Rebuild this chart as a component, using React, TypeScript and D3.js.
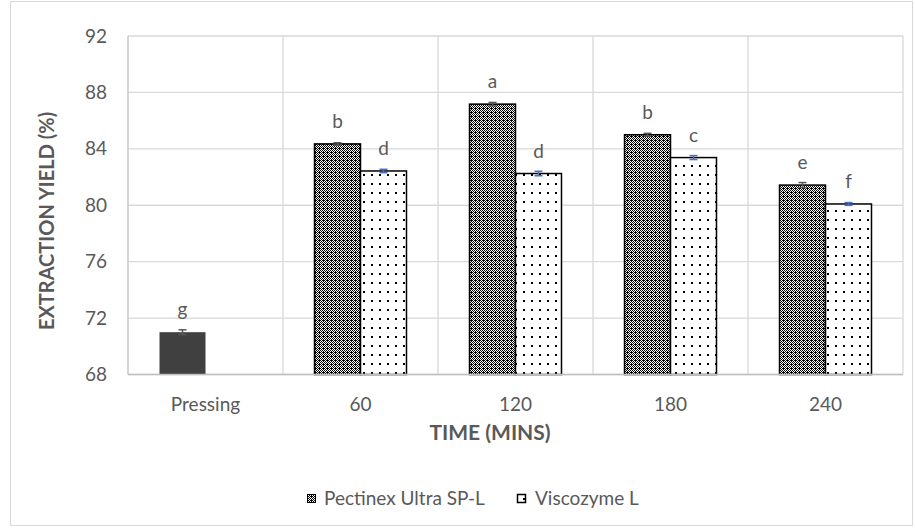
import React from "react";
import * as d3 from "d3";

const categories = ["Pressing", "60", "120", "180", "240"];
const seriesNames = ["Pectinex Ultra SP-L", "Viscozyme L"];
const pectinex = [71.0, 84.35, 87.17, 85.0, 81.43];
const pectinexErr = [0.17, 0.08, 0.12, 0.1, 0.18];
const viscozyme: (number | null)[] = [null, 82.43, 82.25, 83.38, 80.09];
const viscozymeErr: (number | null)[] = [null, 0.12, 0.16, 0.14, 0.1];
const pectinexLetters = ["g", "b", "a", "b", "e"];
const viscozymeLetters = ["", "d", "d", "c", "f"];
const yTicks = [68, 72, 76, 80, 84, 88, 92];

const W = 915;
const H = 528;
const PX0 = 128;
const PX1 = 903;
const PY0 = 36;
const PY1 = 374.5;
const FONT = "Lato, 'Open Sans', sans-serif";
const TXT = "#595959";

export default function App() {
  const x = d3.scaleBand<string>().domain(categories).range([PX0, PX1]).paddingInner(0).paddingOuter(0);
  const xs = d3.scaleBand<string>().domain(seriesNames).range([0, x.bandwidth()]).paddingInner(0).paddingOuter(0.685);
  const y = d3.scaleLinear().domain([68, 92]).range([PY1, PY0]);
  const bw = xs.bandwidth();

  const bars: any[] = [];
  categories.forEach((c, i) => {
    const vals = [pectinex[i], viscozyme[i]];
    const errs = [pectinexErr[i], viscozymeErr[i]];
    const letters = [pectinexLetters[i], viscozymeLetters[i]];
    vals.forEach((v, s) => {
      if (v == null) return;
      const bx = (x(c) as number) + (xs(seriesNames[s]) as number);
      const top = y(v);
      const isPress = c === "Pressing";
      const fill = isPress ? "#404040" : s === 0 ? "url(#patCheck)" : "url(#patDots)";
      const e = errs[s] as number;
      const cx = bx + bw / 2;
      const ecol = s === 0 ? "#595959" : "#4472C4";
      bars.push(
        <g key={`${c}-${s}`}>
          <rect x={bx} y={top} width={bw} height={PY1 - top} fill={fill}
            stroke={isPress ? "#404040" : "#000"} strokeWidth={isPress ? 0 : 1.5} />
          <line x1={cx} x2={cx} y1={y(v + e)} y2={y(v - e)} stroke={ecol} strokeWidth={1.5} />
          <line x1={cx - 4} x2={cx + 4} y1={y(v + e)} y2={y(v + e)} stroke={ecol} strokeWidth={1.5} />
          <line x1={cx - 4} x2={cx + 4} y1={y(v - e)} y2={y(v - e)} stroke={ecol} strokeWidth={1.5} />
          <text x={cx} y={top - 16} textAnchor="middle" fontSize={19} fill={TXT} fontFamily={FONT}>{letters[s]}</text>
        </g>
      );
    });
  });

  const checkPix = [[0, 0], [0, 2], [1, 1], [1, 3], [2, 0], [2, 2], [3, 1], [3, 3], [3, 0]];

  return (
    <svg width={W} height={H} style={{ position: "absolute", left: 0, top: 0 }}>
      <defs>
        <pattern id="patCheck" width={4} height={4} patternUnits="userSpaceOnUse">
          <rect width={4} height={4} fill="#fff" />
          {checkPix.map(([px, py], k) => <rect key={k} x={px} y={py} width={1} height={1} fill="#000" />)}
        </pattern>
        <pattern id="patDots" width={8} height={9} patternUnits="userSpaceOnUse">
          <rect width={8} height={9} fill="#fff" />
          <rect x={3} y={3} width={2} height={2} fill="#000" />
        </pattern>
      </defs>
      <rect x={0} y={0} width={W} height={H} fill="#fff" />
      <rect x={10.5} y={1.5} width={902} height={524} fill="none" stroke="#d9d9d9" strokeWidth={1} />
      {yTicks.map((t) => (
        <line key={t} x1={PX0} x2={PX1} y1={y(t)} y2={y(t)} stroke="#d9d9d9" strokeWidth={1.3} />
      ))}
      {categories.map((c) => (
        <line key={c} x1={(x(c) as number) + x.bandwidth()} x2={(x(c) as number) + x.bandwidth()} y1={PY0} y2={PY1} stroke="#d9d9d9" strokeWidth={1.3} />
      ))}
      <line x1={PX0} x2={PX0} y1={PY0} y2={PY1} stroke="#bfbfbf" strokeWidth={1.3} />
      {bars}
      <line x1={PX0} x2={PX1} y1={PY1} y2={PY1} stroke="#bfbfbf" strokeWidth={1.5} />
      {yTicks.map((t) => (
        <text key={t} x={107} y={y(t)} dy="0.35em" textAnchor="end" fontSize={19} fill={TXT} fontFamily={FONT}>{t}</text>
      ))}
      {categories.map((c) => (
        <text key={c} x={(x(c) as number) + x.bandwidth() / 2} y={411} textAnchor="middle" fontSize={19} fill={TXT} fontFamily={FONT}>{c}</text>
      ))}
      <text x={490} y={440} textAnchor="middle" fontSize={21} fontWeight="bold" fill={TXT} fontFamily={FONT}>TIME (MINS)</text>
      <text transform={`translate(54,221) rotate(-90)`} textAnchor="middle" fontSize={20} fontWeight="bold" fill={TXT} fontFamily={FONT}>EXTRACTION YIELD (%)</text>
      <rect x={307.5} y={494.5} width={8} height={8} fill="url(#patCheck)" stroke="#000" strokeWidth={1} />
      <text x={324} y={505} fontSize={19} fill={TXT} fontFamily={FONT}>{seriesNames[0]}</text>
      <rect x={517.5} y={494.5} width={8} height={8} fill="url(#patDots)" stroke="#000" strokeWidth={1.5} />
      <text x={535} y={505} fontSize={19} fill={TXT} fontFamily={FONT}>{seriesNames[1]}</text>
    </svg>
  );
}
